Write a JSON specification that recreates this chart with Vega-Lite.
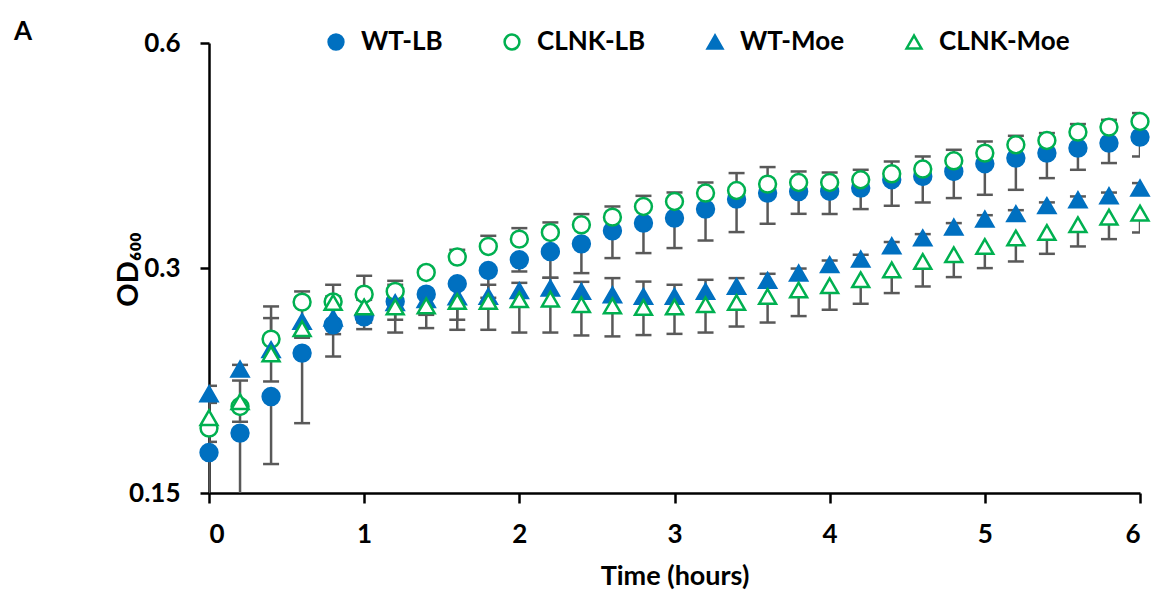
{
  "$schema": "https://vega.github.io/schema/vega-lite/v6.json",
  "width": 931,
  "height": 450,
  "autosize": "none",
  "padding": {"left": 209, "top": 43, "right": 12, "bottom": 103},
  "background": "white",
  "title": {"text": "A", "anchor": "start", "frame": "group", "dx": -195, "dy": 22, "offset": 6, "fontSize": 26, "font": "Lato", "fontWeight": "bold", "color": "black"},
  "data": {"values": [
    {"series":"WT-LB","time":0,"od":0.1699,"err":0.145},
    {"series":"WT-LB","time":0.2,"od":0.1804,"err":0.145},
    {"series":"WT-LB","time":0.4,"od":0.2019,"err":0.1640},
    {"series":"WT-LB","time":0.6,"od":0.2308,"err":0.1860},
    {"series":"WT-LB","time":0.8,"od":0.2518,"err":0.2284},
    {"series":"WT-LB","time":1.0,"od":0.2581,"err":0.2485},
    {"series":"WT-LB","time":1.2,"od":0.2706,"err":0.2459},
    {"series":"WT-LB","time":1.4,"od":0.2768,"err":0.2597},
    {"series":"WT-LB","time":1.6,"od":0.2858,"err":0.2558},
    {"series":"WT-LB","time":1.8,"od":0.2977,"err":0.2737},
    {"series":"WT-LB","time":2.0,"od":0.3077,"err":0.2968},
    {"series":"WT-LB","time":2.2,"od":0.3156,"err":0.2911},
    {"series":"WT-LB","time":2.4,"od":0.3232,"err":0.2953},
    {"series":"WT-LB","time":2.6,"od":0.3364,"err":0.3093},
    {"series":"WT-LB","time":2.8,"od":0.3445,"err":0.3141},
    {"series":"WT-LB","time":3.0,"od":0.3499,"err":0.3190},
    {"series":"WT-LB","time":3.2,"od":0.3597,"err":0.3265},
    {"series":"WT-LB","time":3.4,"od":0.3709,"err":0.3351},
    {"series":"WT-LB","time":3.6,"od":0.3779,"err":0.3438},
    {"series":"WT-LB","time":3.8,"od":0.3797,"err":0.3545},
    {"series":"WT-LB","time":4.0,"od":0.3800,"err":0.3543},
    {"series":"WT-LB","time":4.2,"od":0.3837,"err":0.3597},
    {"series":"WT-LB","time":4.4,"od":0.3937,"err":0.3634},
    {"series":"WT-LB","time":4.6,"od":0.3977,"err":0.3671},
    {"series":"WT-LB","time":4.8,"od":0.4039,"err":0.3721},
    {"series":"WT-LB","time":5.0,"od":0.4136,"err":0.3759},
    {"series":"WT-LB","time":5.2,"od":0.4209,"err":0.3817},
    {"series":"WT-LB","time":5.4,"od":0.4274,"err":0.3957},
    {"series":"WT-LB","time":5.6,"od":0.4341,"err":0.4060},
    {"series":"WT-LB","time":5.8,"od":0.4408,"err":0.4145},
    {"series":"WT-LB","time":6.0,"od":0.4490,"err":0.4230},
    {"series":"CLNK-LB","time":0,"od":0.1832,"err":0.1980},
    {"series":"CLNK-LB","time":0.2,"od":0.1958,"err":0.2121},
    {"series":"CLNK-LB","time":0.4,"od":0.2410,"err":0.2665},
    {"series":"CLNK-LB","time":0.6,"od":0.2701,"err":0.2791},
    {"series":"CLNK-LB","time":0.8,"od":0.2703,"err":0.2849},
    {"series":"CLNK-LB","time":1.0,"od":0.2768,"err":0.2929},
    {"series":"CLNK-LB","time":1.2,"od":0.2791,"err":0.2884},
    {"series":"CLNK-LB","time":1.4,"od":0.2959,"err":0.2999},
    {"series":"CLNK-LB","time":1.6,"od":0.3103,"err":0.3173},
    {"series":"CLNK-LB","time":1.8,"od":0.3206,"err":0.3313},
    {"series":"CLNK-LB","time":2.0,"od":0.3279,"err":0.3392},
    {"series":"CLNK-LB","time":2.2,"od":0.3347,"err":0.3452},
    {"series":"CLNK-LB","time":2.4,"od":0.3427,"err":0.3542},
    {"series":"CLNK-LB","time":2.6,"od":0.3509,"err":0.3626},
    {"series":"CLNK-LB","time":2.8,"od":0.3626,"err":0.3747},
    {"series":"CLNK-LB","time":3.0,"od":0.3682,"err":0.3786},
    {"series":"CLNK-LB","time":3.2,"od":0.3779,"err":0.3904},
    {"series":"CLNK-LB","time":3.4,"od":0.3809,"err":0.4019},
    {"series":"CLNK-LB","time":3.6,"od":0.3885,"err":0.4094},
    {"series":"CLNK-LB","time":3.8,"od":0.3904,"err":0.4039},
    {"series":"CLNK-LB","time":4.0,"od":0.3904,"err":0.4026},
    {"series":"CLNK-LB","time":4.2,"od":0.3937,"err":0.4060},
    {"series":"CLNK-LB","time":4.4,"od":0.4010,"err":0.4165},
    {"series":"CLNK-LB","time":4.6,"od":0.4069,"err":0.4230},
    {"series":"CLNK-LB","time":4.8,"od":0.4174,"err":0.4318},
    {"series":"CLNK-LB","time":5.0,"od":0.4274,"err":0.4430},
    {"series":"CLNK-LB","time":5.2,"od":0.4385,"err":0.4508},
    {"series":"CLNK-LB","time":5.4,"od":0.4443,"err":0.4546},
    {"series":"CLNK-LB","time":5.6,"od":0.4560,"err":0.4674},
    {"series":"CLNK-LB","time":5.8,"od":0.4631,"err":0.4736},
    {"series":"CLNK-LB","time":6.0,"od":0.4711,"err":0.4835},
    {"series":"WT-Moe","time":0,"od":0.2036,"err":0.2087},
    {"series":"WT-Moe","time":0.2,"od":0.2197,"err":0.2226},
    {"series":"WT-Moe","time":0.4,"od":0.2332,"err":0.2571},
    {"series":"WT-Moe","time":0.6,"od":0.2544,"err":0.2737},
    {"series":"WT-Moe","time":0.8,"od":0.2571,"err":0.2748},
    {"series":"WT-Moe","time":1.0,"od":0.2654,"err":0.2720},
    {"series":"WT-Moe","time":1.2,"od":0.2695,"err":0.2849},
    {"series":"WT-Moe","time":1.4,"od":0.2720,"err":0.2788},
    {"series":"WT-Moe","time":1.6,"od":0.2745,"err":0.2866},
    {"series":"WT-Moe","time":1.8,"od":0.2748,"err":0.2849},
    {"series":"WT-Moe","time":2.0,"od":0.2797,"err":0.2866},
    {"series":"WT-Moe","time":2.2,"od":0.2820,"err":0.2911},
    {"series":"WT-Moe","time":2.4,"od":0.2791,"err":0.2875},
    {"series":"WT-Moe","time":2.6,"od":0.2762,"err":0.2908},
    {"series":"WT-Moe","time":2.8,"od":0.2748,"err":0.2877},
    {"series":"WT-Moe","time":3.0,"od":0.2748,"err":0.2849},
    {"series":"WT-Moe","time":3.2,"od":0.2791,"err":0.2893},
    {"series":"WT-Moe","time":3.4,"od":0.2834,"err":0.2908},
    {"series":"WT-Moe","time":3.6,"od":0.2887,"err":0.2947},
    {"series":"WT-Moe","time":3.8,"od":0.2953,"err":0.2995},
    {"series":"WT-Moe","time":4.0,"od":0.3030,"err":0.3070},
    {"series":"WT-Moe","time":4.2,"od":0.3083,"err":0.3125},
    {"series":"WT-Moe","time":4.4,"od":0.3212,"err":0.3250},
    {"series":"WT-Moe","time":4.6,"od":0.3290,"err":0.3330},
    {"series":"WT-Moe","time":4.8,"od":0.3403,"err":0.3445},
    {"series":"WT-Moe","time":5.0,"od":0.3488,"err":0.3530},
    {"series":"WT-Moe","time":5.2,"od":0.3545,"err":0.3585},
    {"series":"WT-Moe","time":5.4,"od":0.3634,"err":0.3672},
    {"series":"WT-Moe","time":5.6,"od":0.3701,"err":0.3740},
    {"series":"WT-Moe","time":5.8,"od":0.3747,"err":0.3785},
    {"series":"WT-Moe","time":6.0,"od":0.3837,"err":0.3897},
    {"series":"CLNK-Moe","time":0,"od":0.1891,"err":0.1756},
    {"series":"CLNK-Moe","time":0.2,"od":0.1988,"err":0.1868},
    {"series":"CLNK-Moe","time":0.4,"od":0.2303,"err":0.2115},
    {"series":"CLNK-Moe","time":0.6,"od":0.2488,"err":0.2420},
    {"series":"CLNK-Moe","time":0.8,"od":0.2698,"err":0.2447},
    {"series":"CLNK-Moe","time":1.0,"od":0.2660,"err":0.2536},
    {"series":"CLNK-Moe","time":1.2,"od":0.2660,"err":0.2558},
    {"series":"CLNK-Moe","time":1.4,"od":0.2670,"err":0.2493},
    {"series":"CLNK-Moe","time":1.6,"od":0.2706,"err":0.2480},
    {"series":"CLNK-Moe","time":1.8,"od":0.2706,"err":0.2480},
    {"series":"CLNK-Moe","time":2.0,"od":0.2720,"err":0.2459},
    {"series":"CLNK-Moe","time":2.2,"od":0.2726,"err":0.2459},
    {"series":"CLNK-Moe","time":2.4,"od":0.2679,"err":0.2437},
    {"series":"CLNK-Moe","time":2.6,"od":0.2670,"err":0.2430},
    {"series":"CLNK-Moe","time":2.8,"od":0.2656,"err":0.2440},
    {"series":"CLNK-Moe","time":3.0,"od":0.2660,"err":0.2449},
    {"series":"CLNK-Moe","time":3.2,"od":0.2679,"err":0.2459},
    {"series":"CLNK-Moe","time":3.4,"od":0.2698,"err":0.2505},
    {"series":"CLNK-Moe","time":3.6,"od":0.2748,"err":0.2536},
    {"series":"CLNK-Moe","time":3.8,"od":0.2803,"err":0.2587},
    {"series":"CLNK-Moe","time":4.0,"od":0.2840,"err":0.2638},
    {"series":"CLNK-Moe","time":4.2,"od":0.2893,"err":0.2687},
    {"series":"CLNK-Moe","time":4.4,"od":0.2983,"err":0.2777},
    {"series":"CLNK-Moe","time":4.6,"od":0.3061,"err":0.2834},
    {"series":"CLNK-Moe","time":4.8,"od":0.3125,"err":0.2917},
    {"series":"CLNK-Moe","time":5.0,"od":0.3206,"err":0.2999},
    {"series":"CLNK-Moe","time":5.2,"od":0.3290,"err":0.3061},
    {"series":"CLNK-Moe","time":5.4,"od":0.3347,"err":0.3134},
    {"series":"CLNK-Moe","time":5.6,"od":0.3427,"err":0.3206},
    {"series":"CLNK-Moe","time":5.8,"od":0.3509,"err":0.3279},
    {"series":"CLNK-Moe","time":6.0,"od":0.3553,"err":0.3347}
  ]},
  "encoding": {
    "x": {
      "field": "time", "type": "quantitative",
      "scale": {"domain": [0, 6], "nice": false, "zero": false},
      "axis": {
        "values": [0, 1, 2, 3, 4, 5, 6], "format": "d", "title": "Time (hours)",
        "grid": false, "domainColor": "black", "domainWidth": 2.5,
        "tickColor": "black", "tickWidth": 2.5, "tickSize": 10,
        "labelFont": "Lato", "labelFontSize": 26, "labelFontWeight": "bold", "labelColor": "black", "labelPadding": 18,
        "titleFont": "Lato", "titleFontSize": 27, "titleFontWeight": "bold", "titleColor": "black", "titlePadding": 16
      }
    }
  },
  "layer": [
    {
      "mark": {"type": "rule", "color": "#595959", "strokeWidth": 2.5, "clip": true},
      "encoding": {
        "y": {
          "field": "od", "type": "quantitative", "title": "OD₆₀₀",
          "scale": {"type": "log", "base": 2, "domain": [0.15, 0.6], "nice": false},
          "axis": {
            "values": [0.15, 0.3, 0.6], "format": ".2~f", "title": "OD₆₀₀",
            "grid": false, "domainColor": "black", "domainWidth": 2.5,
            "tickColor": "black", "tickWidth": 2.5, "tickSize": 9,
            "labelFont": "Lato", "labelFontSize": 26, "labelFontWeight": "bold", "labelColor": "black", "labelPadding": 20,
            "titleFont": "Lato", "titleFontSize": 29, "titleFontWeight": "bold", "titleColor": "black",
            "titleAngle": -90, "titleX": -72, "titleY": 226, "titleBaseline": "alphabetic", "titleAlign": "center"
          }
        },
        "y2": {"field": "err"}
      }
    },
    {
      "mark": {"type": "tick", "orient": "horizontal", "color": "#595959", "thickness": 2.5, "size": 16, "clip": true, "opacity": 1},
      "encoding": {
        "y": {"field": "err", "type": "quantitative", "title": "OD₆₀₀"}
      }
    },
    {
      "mark": {"type": "point", "filled": true, "opacity": 1, "size": 285, "strokeWidth": 2.5},
      "encoding": {
        "y": {"field": "od", "type": "quantitative", "title": "OD₆₀₀"},
        "shape": {
          "field": "series", "type": "nominal", "title": null,
          "scale": {"domain": ["WT-LB", "CLNK-LB", "WT-Moe", "CLNK-Moe"], "range": ["circle", "circle", "triangle-up", "triangle-up"]}
        },
        "fill": {
          "field": "series", "type": "nominal", "title": null,
          "scale": {"domain": ["WT-LB", "CLNK-LB", "WT-Moe", "CLNK-Moe"], "range": ["#0070C0", "#ffffff", "#0070C0", "#ffffff"]}
        },
        "stroke": {
          "field": "series", "type": "nominal", "title": null,
          "scale": {"domain": ["WT-LB", "CLNK-LB", "WT-Moe", "CLNK-Moe"], "range": ["#0070C0", "#00B050", "#0070C0", "#00B050"]}
        }
      }
    }
  ],
  "config": {
    "view": {"stroke": null},
    "font": "Lato",
    "legend": {
      "orient": "none", "legendX": 114, "legendY": -14, "direction": "horizontal",
      "labelFont": "Lato", "labelFontSize": 26, "labelFontWeight": "bold", "labelColor": "black",
      "symbolSize": 220, "symbolStrokeWidth": 2.5, "labelOffset": 12, "columnPadding": 56, "padding": 0
    }
  }
}
